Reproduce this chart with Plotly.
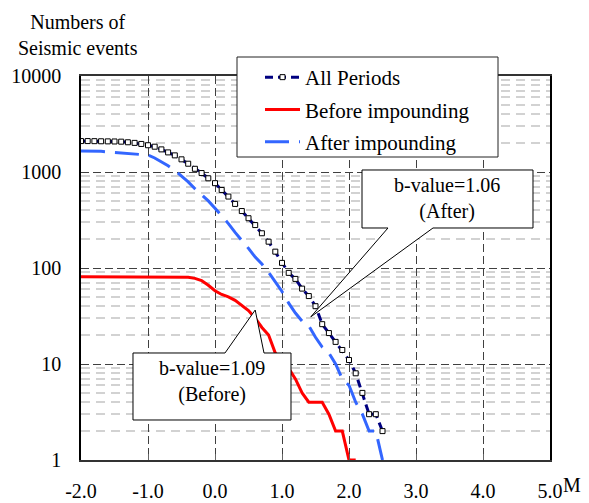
import math
import plotly.graph_objects as go

# Magnitude bins (M), 0.1 steps
magnitudes = [-2.0, -1.9, -1.8, -1.7, -1.6, -1.5, -1.4, -1.3, -1.2, -1.1,
              -1.0, -0.9, -0.8, -0.7, -0.6, -0.5, -0.4, -0.3, -0.2, -0.1,
              0.0, 0.1, 0.2, 0.3, 0.4, 0.5, 0.6, 0.7, 0.8, 0.9,
              1.0, 1.1, 1.2, 1.3, 1.4, 1.5, 1.6, 1.7, 1.8, 1.9,
              2.0, 2.1, 2.2, 2.3, 2.4, 2.5]

# Cumulative number of events with magnitude >= M
all_periods = [2100, 2100, 2095, 2090, 2085, 2080, 2070, 2040, 2010, 1960,
               1900, 1835, 1720, 1600, 1490, 1355, 1220, 1080, 975, 860,
               765, 650, 555, 465, 392, 330, 280, 230, 188, 148,
               113, 89, 77, 61, 51, 40, 26, 21, 17, 14,
               11, 8, 5, 3, 3, 2]

before_impounding = [81, 81, 81, 81, 81, 81, 81, 81, 81, 81,
                     81, 81, 81, 81, 81, 81, 80, 78, 74, 66,
                     58, 53, 50, 46, 41, 36, 30, 24, 20, 13,
                     11, 9, 7, 5, 4, 4, 4, 3, 2, 2,
                     1, 1]

after_impounding = [1650, 1650, 1645, 1640, 1620, 1600, 1590, 1580, 1560, 1540,
                    1500, 1400, 1280, 1160, 1040, 910, 790, 670, 580, 500,
                    420, 350, 290, 235, 195, 160, 130, 110, 90, 72,
                    57, 43, 34, 28, 25, 19, 15, 13, 10, 7,
                    6, 4, 3, 2, 2, 1]

series_names = ["All Periods", "Before impounding", "After impounding"]

x_tick_vals = [-2, -1, 0, 1, 2, 3, 4, 5]
x_tick_text = ["-2.0", "-1.0", "0.0", "1.0", "2.0", "3.0", "4.0", "5.0"]
y_tick_vals = [1, 10, 100, 1000, 10000]
y_tick_text = ["1", "10", "100", "1000", "10000"]

# Callout labels and the points they refer to (M, count)
before_label = "b-value=1.09<br>(Before)"
after_label = "b-value=1.06<br>(After)"
before_tip = (0.60, 36.5)
after_tip = (1.43, 31.0)

# ---------------------------------------------------------------- layout
W, H = 589, 503
PLOT_L, PLOT_R, PLOT_T, PLOT_B = 81, 550, 76, 460
X_RANGE = (-2.0, 5.0)
Y_LOG_RANGE = (0.0, 4.0)
FONT = "Liberation Serif, Times New Roman, serif"


def paper_x(px):
    return (px - PLOT_L) / (PLOT_R - PLOT_L)


def paper_y(py):
    return (PLOT_B - py) / (PLOT_B - PLOT_T)


def data_to_paper(m, n):
    return ((m - X_RANGE[0]) / (X_RANGE[1] - X_RANGE[0]),
            (math.log10(n) - Y_LOG_RANGE[0]) / (Y_LOG_RANGE[1] - Y_LOG_RANGE[0]))


def path_from_points(points):
    parts = []
    for i, (x, y) in enumerate(points):
        parts.append(("M" if i == 0 else "L") + f"{x:.5f},{y:.5f}")
    return " ".join(parts) + " Z"


fig = go.Figure()

fig.add_trace(go.Scatter(
    x=magnitudes, y=all_periods, name=series_names[0], legendgroup="a",
    mode="lines+markers",
    line=dict(color="#000080", width=3, dash="8px,5px"),
    marker=dict(symbol="square", size=5, color="white",
                line=dict(color="black", width=1)),
))
fig.add_trace(go.Scatter(
    x=magnitudes[:len(before_impounding)], y=before_impounding,
    name=series_names[1], legendgroup="b", mode="lines",
    line=dict(color="#FF0000", width=3),
))
fig.add_trace(go.Scatter(
    x=magnitudes, y=after_impounding, name=series_names[2], legendgroup="c",
    mode="lines",
    line=dict(color="#3366FF", width=3, dash="24px,10px"),
))

minor_vals = [m * 10 ** e for e in range(4) for m in range(2, 10)]

fig.update_xaxes(
    range=list(X_RANGE), tickmode="array", tickvals=x_tick_vals, ticktext=x_tick_text,
    showgrid=True, gridcolor="#404040", griddash="8px,4px", gridwidth=1,
    showline=True, linecolor="#333333", linewidth=2, mirror=True,
    ticks="inside", ticklen=6, tickcolor="#666666", zeroline=False,
    ticklabelstandoff=12, automargin=False,
    tickfont=dict(family=FONT, size=20, color="black"),
)
fig.update_yaxes(
    type="log", range=list(Y_LOG_RANGE), tickmode="array",
    tickvals=y_tick_vals, ticktext=y_tick_text,
    showgrid=True, gridcolor="#404040", griddash="8px,4px", gridwidth=1,
    showline=True, linecolor="black", linewidth=1.5, mirror=True,
    ticks="", zeroline=False, ticklabelstandoff=14, automargin=False,
    tickfont=dict(family=FONT, size=20, color="black"),
    minor=dict(tickmode="array", tickvals=minor_vals, showgrid=True,
               gridcolor="#d2d2d2", griddash="9px,6px", gridwidth=2, ticks=""),
)

shapes = []
# legend frame
shapes.append(dict(type="rect", xref="paper", yref="paper",
                   x0=paper_x(237), x1=paper_x(498), y0=paper_y(157), y1=paper_y(57),
                   fillcolor="white", line=dict(color="#222222", width=1), layer="above"))

# "After" callout: box with a wedge from its lower edge
ax_tip, ay_tip = data_to_paper(*after_tip)
after_pts = [(paper_x(362), paper_y(170)), (paper_x(533), paper_y(170)),
             (paper_x(533), paper_y(228)), (paper_x(433), paper_y(228)),
             (ax_tip, ay_tip),
             (paper_x(388), paper_y(228)), (paper_x(362), paper_y(228))]
shapes.append(dict(type="path", xref="paper", yref="paper", path=path_from_points(after_pts),
                   fillcolor="white", line=dict(color="black", width=1), layer="above"))

# "Before" callout: box with a wedge from its upper edge
bx_tip, by_tip = data_to_paper(*before_tip)
before_pts = [(paper_x(133), paper_y(353)), (paper_x(225), paper_y(353)),
              (bx_tip, by_tip),
              (paper_x(264), paper_y(353)), (paper_x(291), paper_y(353)),
              (paper_x(291), paper_y(420)), (paper_x(133), paper_y(420))]
shapes.append(dict(type="path", xref="paper", yref="paper", path=path_from_points(before_pts),
                   fillcolor="white", line=dict(color="black", width=1), layer="above"))

annotations = [
    dict(text=after_label, x=paper_x(447), y=paper_y(198), xref="paper", yref="paper",
         showarrow=False, xanchor="center", yanchor="middle", align="center",
         font=dict(family=FONT, size=20, color="black")),
    dict(text=before_label, x=paper_x(212), y=paper_y(381), xref="paper", yref="paper",
         showarrow=False, xanchor="center", yanchor="middle", align="center",
         font=dict(family=FONT, size=20, color="black")),
    dict(text="Numbers of<br>Seismic events", x=paper_x(78), y=paper_y(35),
         xref="paper", yref="paper", showarrow=False, xanchor="center",
         yanchor="middle", align="center",
         font=dict(family=FONT, size=20, color="black")),
    dict(text="M", x=paper_x(572), y=paper_y(485), xref="paper", yref="paper",
         showarrow=False, xanchor="center", yanchor="middle",
         font=dict(family=FONT, size=20, color="black")),
]

fig.update_layout(
    width=W, height=H, autosize=False,
    margin=dict(l=PLOT_L, r=W - PLOT_R, t=PLOT_T, b=H - PLOT_B, pad=0),
    paper_bgcolor="white", plot_bgcolor="white",
    font=dict(family=FONT, size=20, color="black"),
    showlegend=True,
    legend=dict(x=paper_x(260), y=paper_y(57), xanchor="left", yanchor="top",
                bgcolor="rgba(0,0,0,0)", borderwidth=0, itemwidth=35,
                tracegroupgap=2, font=dict(family=FONT, size=21, color="black")),
    shapes=shapes,
    annotations=annotations,
)

fig.write_html("out.html")
